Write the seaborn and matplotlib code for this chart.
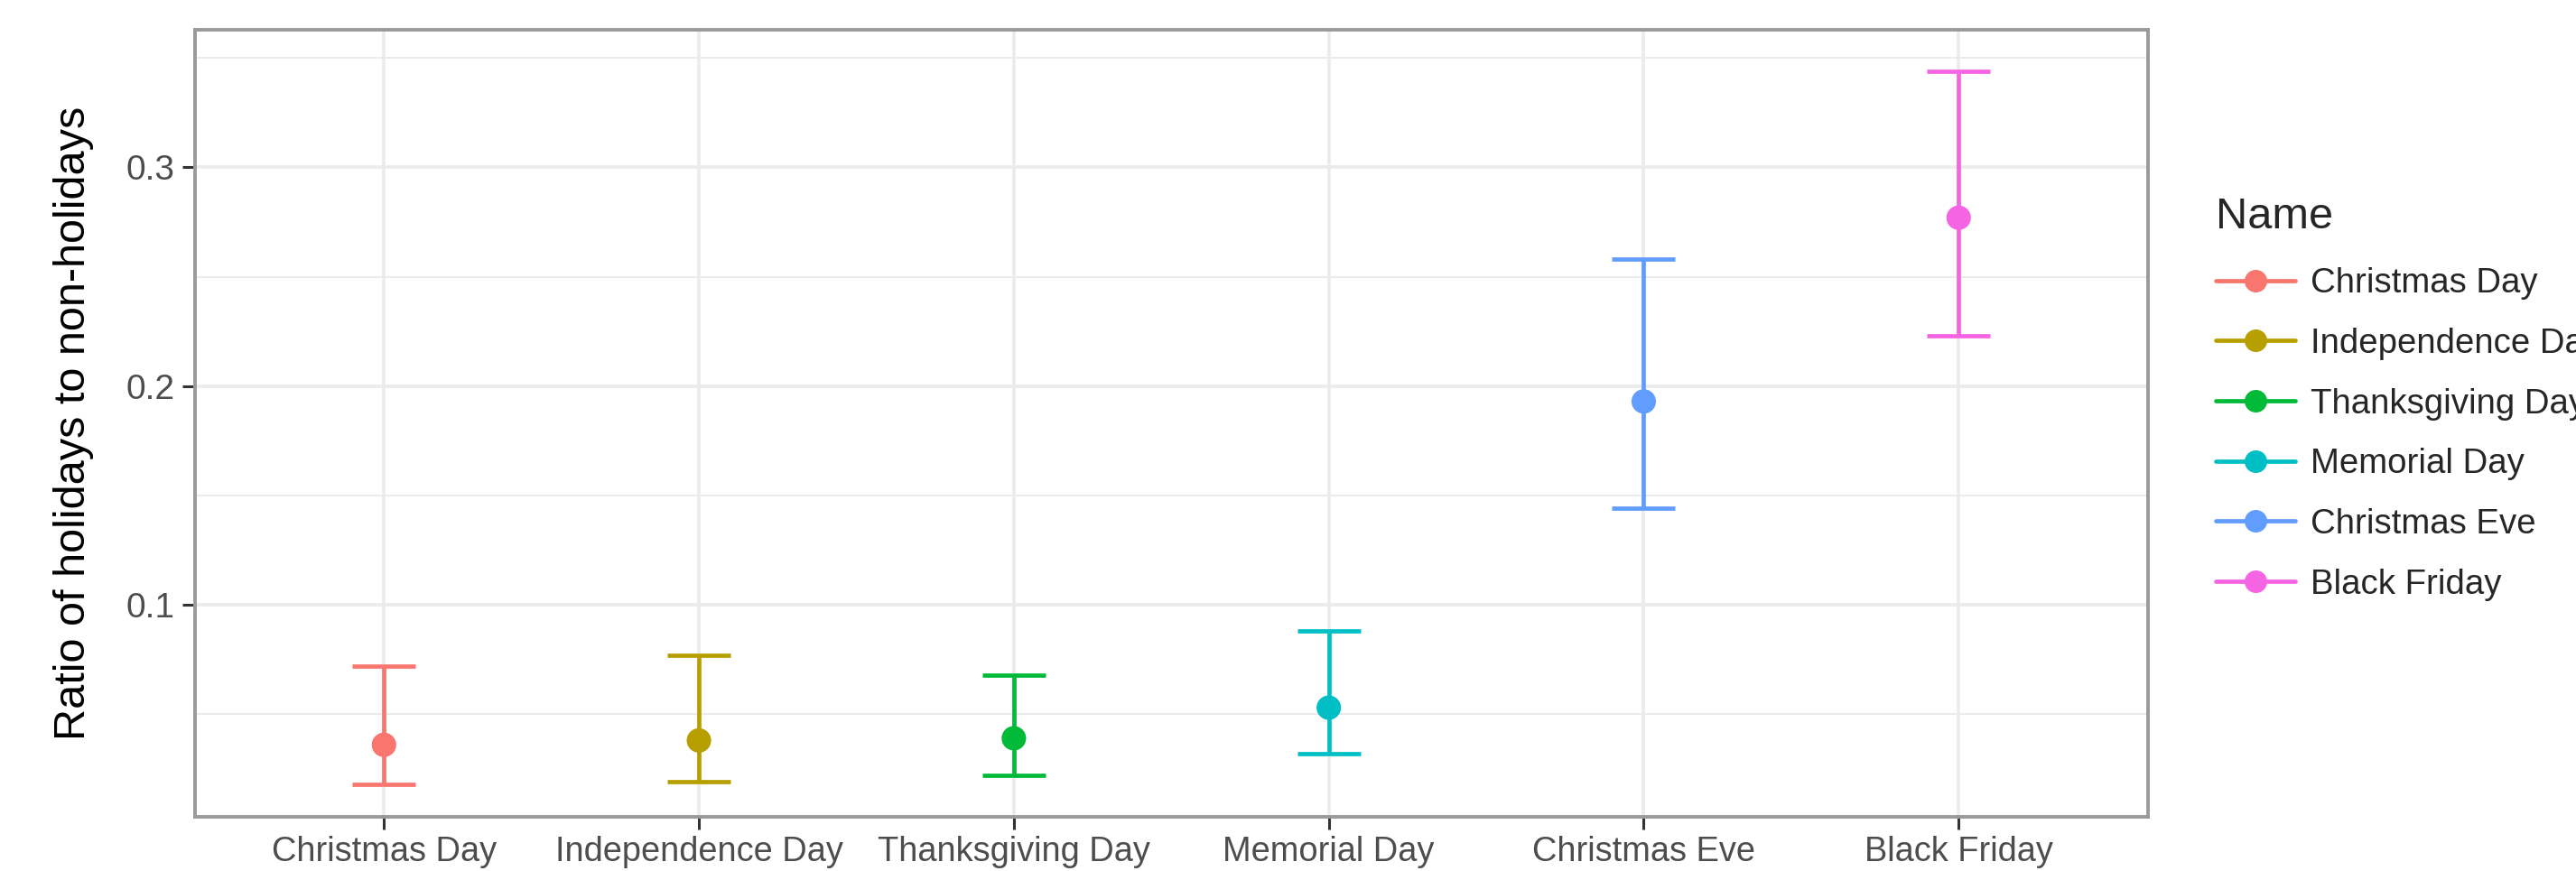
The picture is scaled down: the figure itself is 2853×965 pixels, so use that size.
import numpy as np
import matplotlib
matplotlib.use('Agg')
import matplotlib.pyplot as plt
from matplotlib.lines import Line2D
from matplotlib.ticker import MultipleLocator
import pandas as pd
import seaborn as sns

# holidays, point estimate and interval
names = ['Christmas Day', 'Independence Day', 'Thanksgiving Day',
         'Memorial Day', 'Christmas Eve', 'Black Friday']
ratio = [0.036, 0.038, 0.039, 0.053, 0.193, 0.277]
lower = [0.018, 0.019, 0.022, 0.032, 0.144, 0.223]
upper = [0.072, 0.077, 0.068, 0.088, 0.258, 0.344]
colors = ['#F8766D', '#B79F00', '#00BA38', '#00BFC4', '#619CFF', '#F564E3']

df = pd.DataFrame({'Name': names, 'ratio': ratio, 'lower': lower, 'upper': upper})
df['Name'] = pd.Categorical(df['Name'], categories=names, ordered=True)

sns.set_theme(style='white')
plt.rcParams['font.family'] = ['Liberation Sans', 'DejaVu Sans']

fig = plt.figure(figsize=(14.265, 4.825), dpi=200)
ax = fig.add_axes([0.0757, 0.062, 0.758, 0.904])

# grid like ggplot theme_bw
ax.set_axisbelow(True)
ax.yaxis.set_major_locator(MultipleLocator(0.1))
ax.yaxis.set_minor_locator(MultipleLocator(0.05))
ax.grid(which='major', axis='both', color='#ebebeb', lw=1.3)
ax.grid(which='minor', axis='y', color='#ebebeb', lw=0.7)

pal = dict(zip(names, colors))
sns.scatterplot(data=df, x='Name', y='ratio', hue='Name', palette=pal,
                s=95, edgecolor='none', legend=False, ax=ax, zorder=3)
for i, row in df.iterrows():
    ax.errorbar(i, row['ratio'],
                yerr=[[row['ratio'] - row['lower']], [row['upper'] - row['ratio']]],
                fmt='none', ecolor=pal[row['Name']], elinewidth=1.7,
                capsize=12.5, capthick=1.7, zorder=2)

ax.set_xlim(-0.6, len(names) - 0.4)
ax.set_ylim(0.003, 0.363)
ax.set_xlabel('')
ax.set_ylabel('Ratio of holidays to non-holidays', fontsize=17.5, color='black', labelpad=13)
ax.set_yticks([0.1, 0.2, 0.3])
ax.set_yticklabels(['0.1', '0.2', '0.3'])
ax.tick_params(axis='both', which='major', length=5, width=1.1, color='#333333',
               labelcolor='#4d4d4d', labelsize=14, left=True, bottom=True, pad=3)
ax.tick_params(axis='x', labelsize=13.7, pad=2.5)
ax.tick_params(which='minor', length=0)
for s in ax.spines.values():
    s.set_color('#9a9a9a')
    s.set_linewidth(1.4)

handles = [Line2D([0], [0], color=c, lw=1.7, marker='o', markersize=9,
                  markeredgewidth=0) for c in colors]
leg = fig.legend(handles, names, title='Name', loc='upper left',
                 bbox_to_anchor=(0.848, 0.81), frameon=False,
                 fontsize=13.8, title_fontsize=17.5, handlelength=2.3,
                 handletextpad=0.45, labelspacing=0.8, alignment='left')
leg._legend_box.sep = 12

fig.savefig('out.png', dpi=200)
